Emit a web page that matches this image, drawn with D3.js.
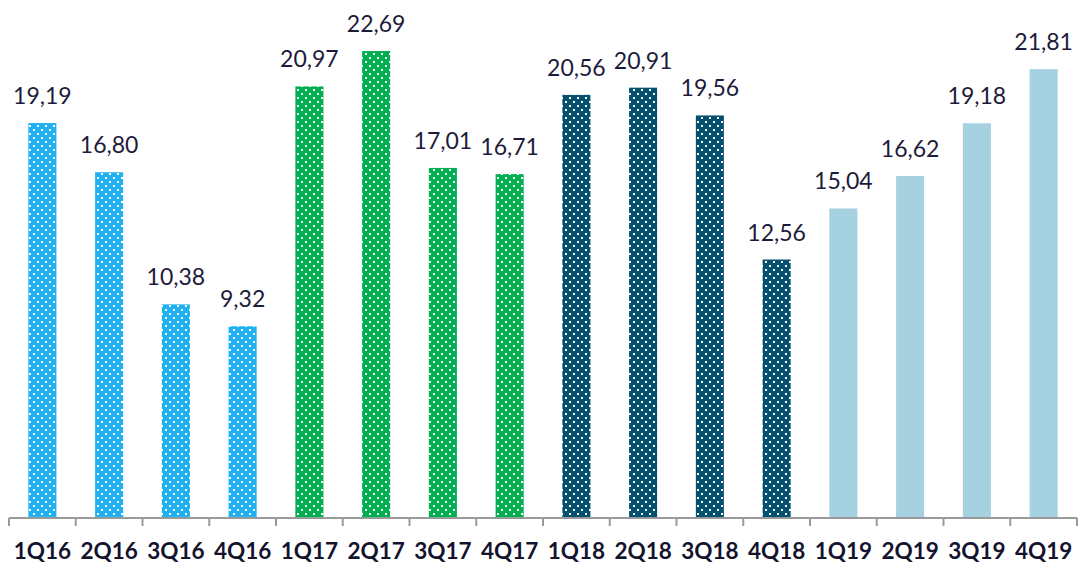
<!DOCTYPE html>
<html>
<head>
<meta charset="utf-8">
<script src="https://cdn.jsdelivr.net/npm/d3@7"></script>
<style>
  body { margin: 0; background: #fff; }
  svg { display: block; }
</style>
</head>
<body>
<div id="chart"></div>
<script>
// quarters and values
const quarters = ['1Q16','2Q16','3Q16','4Q16','1Q17','2Q17','3Q17','4Q17','1Q18','2Q18','3Q18','4Q18','1Q19','2Q19','3Q19','4Q19'];
const values = [19.19, 16.80, 10.38, 9.32, 20.97, 22.69, 17.01, 16.71, 20.56, 20.91, 19.56, 12.56, 15.04, 16.62, 19.18, 21.81];
const years = ['16','17','18','19'];

const yearColor = {'16': '#1fb1f1', '17': '#00b050', '18': '#03506f', '19': '#a5d1e0'};
const dotted = {'16': true, '17': true, '18': true, '19': false};

const width = 1083, height = 563;
const margin = [0, 45, 9, 6]; // top, bottom, left, right
const baseY = 518;

const svg = d3.select('#chart').append('svg')
    .attr('width', width)
    .attr('height', height);

// dotted fills
const defs = svg.append('defs');
years.filter(y => dotted[y]).forEach(y => {
    const p = defs.append('pattern')
        .attr('id', 'dots' + y)
        .attr('patternUnits', 'userSpaceOnUse')
        .attr('width', 8).attr('height', 8);
    p.append('rect').attr('width', 8).attr('height', 8).attr('fill', yearColor[y]);
    p.append('rect').attr('x', 1).attr('y', 1).attr('width', 2).attr('height', 2).attr('fill', '#fff');
    p.append('rect').attr('x', 5).attr('y', 5).attr('width', 2).attr('height', 2).attr('fill', '#fff');
});

const x = d3.scaleBand()
    .domain(quarters)
    .range([margin[2], width - margin[3]])
    .paddingInner(0.58)
    .paddingOuter(0.29);

const y = d3.scaleLinear()
    .domain([0, 25])
    .range([baseY, baseY - 25 * 20.58]);

const data = quarters.map((q, i) => ({k: q, v: values[i], yr: q.slice(2)}));

const chart = svg.append('g');

chart.selectAll('rect.bar')
    .data(data)
    .join('rect')
    .classed('bar', true)
    .attr('x', d => x(d.k))
    .attr('width', x.bandwidth())
    .attr('y', d => y(d.v))
    .attr('height', d => y(0) - y(d.v))
    .attr('fill', d => dotted[d.yr] ? `url(#dots${d.yr})` : yearColor[d.yr]);

// value labels
chart.selectAll('text.val')
    .data(data)
    .join('text')
    .classed('val', true)
    .attr('x', d => x(d.k) + x.bandwidth() / 2)
    .attr('y', d => y(d.v) - 19)
    .attr('text-anchor', 'middle')
    .style('font-family', 'Lato, sans-serif')
    .style('font-size', '23px')
    .style('fill', '#1c1b3a')
    .text(d => d3.format('.2f')(d.v).replace('.', ','));

// x axis
const xAxis = svg.append('g')
    .attr('transform', `translate(0,${baseY})`);

const step = x.step();
const edges = d3.range(quarters.length + 1).map(i => margin[2] + i * step);

xAxis.append('line')
    .attr('x1', edges[0]).attr('x2', edges[edges.length - 1])
    .attr('stroke', '#9a9a9a').attr('stroke-width', 2);

xAxis.selectAll('line.tick')
    .data(edges)
    .join('line')
    .classed('tick', true)
    .attr('x1', d => d).attr('x2', d => d)
    .attr('y1', 0).attr('y2', 8)
    .attr('stroke', '#9a9a9a').attr('stroke-width', 2);

xAxis.selectAll('text')
    .data(quarters)
    .join('text')
    .attr('x', d => x(d) + x.bandwidth() / 2)
    .attr('y', 41)
    .attr('text-anchor', 'middle')
    .style('font-family', 'Lato, sans-serif')
    .style('font-weight', 'bold')
    .style('font-size', '22.5px')
    .style('fill', '#14132e')
    .text(d => d);
</script>
</body>
</html>
